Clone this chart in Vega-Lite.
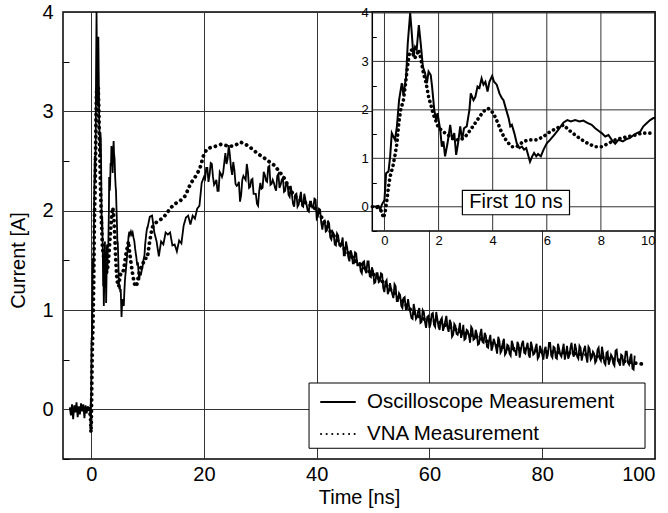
{
  "$schema": "https://vega.github.io/schema/vega-lite/v6.json",
  "width": 592,
  "height": 447,
  "autosize": {"type": "none"},
  "padding": {"left": 63, "top": 12, "right": 13, "bottom": 54},
  "background": "white",
  "config": {
    "view": {"stroke": "black", "strokeWidth": 1.5},
    "font": "Liberation Sans",
    "axis": {"labelFont": "Liberation Sans", "titleFont": "Liberation Sans", "labelColor": "black", "titleColor": "black", "titleFontWeight": "normal", "labelFontSize": 20, "titleFontSize": 20, "gridColor": "#333", "gridOpacity": 1, "tickColor": "black", "domain": false},
    "text": {"font": "Liberation Sans"}
  },
  "datasets": {
    "osc": [
      {"t":-3.8,"v":0.02},{"t":-3.6,"v":-0.06},{"t":-3.4,"v":0.05},{"t":-3.2,"v":-0.1},{"t":-3.0,"v":0.04},{"t":-2.8,"v":-0.03},{"t":-2.6,"v":0.07},{"t":-2.4,"v":-0.08},{"t":-2.2,"v":0.03},{"t":-2.0,"v":-0.05},{"t":-1.8,"v":0.06},{"t":-1.6,"v":-0.02},{"t":-1.4,"v":0.05},{"t":-1.2,"v":-0.09},{"t":-1.0,"v":0.04},{"t":-0.8,"v":-0.04},{"t":-0.6,"v":0.03},
      {"t":-0.45,"v":0.0},{"t":-0.3,"v":0.01},{"t":-0.22,"v":0.02},{"t":-0.16,"v":-0.06},{"t":-0.1,"v":0.04},{"t":0.0,"v":0.14},{"t":0.06,"v":0.69},{"t":0.15,"v":0.73},{"t":0.21,"v":1.04},{"t":0.27,"v":1.52},{"t":0.33,"v":1.45},{"t":0.39,"v":1.38},{"t":0.46,"v":1.66},{"t":0.54,"v":2.2},{"t":0.64,"v":2.55},{"t":0.7,"v":2.31},{"t":0.8,"v":2.69},{"t":0.86,"v":3.37},{"t":0.95,"v":4.0},{"t":1.01,"v":3.58},{"t":1.07,"v":3.1},{"t":1.13,"v":3.3},{"t":1.19,"v":3.24},{"t":1.27,"v":3.75},{"t":1.34,"v":3.37},{"t":1.42,"v":2.89},{"t":1.5,"v":2.76},{"t":1.57,"v":2.55},{"t":1.63,"v":2.79},{"t":1.71,"v":2.72},{"t":1.76,"v":2.48},{"t":1.84,"v":2.0},{"t":1.91,"v":1.79},{"t":1.96,"v":1.93},{"t":2.06,"v":1.59},{"t":2.12,"v":1.24},{"t":2.18,"v":1.35},{"t":2.24,"v":1.04},{"t":2.33,"v":1.31},{"t":2.43,"v":1.69},{"t":2.5,"v":1.38},{"t":2.58,"v":1.52},{"t":2.65,"v":1.07},{"t":2.72,"v":1.31},{"t":2.8,"v":1.66},{"t":2.87,"v":1.38},{"t":2.94,"v":1.62},{"t":3.04,"v":1.66},{"t":3.14,"v":2.0},{"t":3.19,"v":2.34},{"t":3.29,"v":2.2},{"t":3.36,"v":2.27},{"t":3.44,"v":2.48},{"t":3.51,"v":2.45},{"t":3.59,"v":2.65},{"t":3.66,"v":2.52},{"t":3.73,"v":2.58},{"t":3.81,"v":2.38},{"t":3.88,"v":2.58},{"t":3.98,"v":2.7},{"t":4.05,"v":2.58},{"t":4.15,"v":2.52},{"t":4.25,"v":2.34},{"t":4.34,"v":2.24},{"t":4.4,"v":2.2},{"t":4.5,"v":2.0},{"t":4.59,"v":1.83},{"t":4.65,"v":1.66},{"t":4.71,"v":1.69},{"t":4.8,"v":1.52},{"t":4.89,"v":1.31},{"t":4.99,"v":1.21},{"t":5.08,"v":1.24},{"t":5.16,"v":1.18},{"t":5.24,"v":1.21},{"t":5.31,"v":1.07},{"t":5.38,"v":0.93},{"t":5.46,"v":1.04},{"t":5.53,"v":1.11},{"t":5.61,"v":1.04},{"t":5.68,"v":1.09},{"t":5.78,"v":1.04},{"t":5.88,"v":1.18},{"t":6.0,"v":1.31},{"t":6.12,"v":1.38},{"t":6.27,"v":1.48},{"t":6.43,"v":1.59},{"t":6.62,"v":1.74},{"t":6.76,"v":1.79},{"t":6.89,"v":1.76},{"t":7.05,"v":1.79},{"t":7.21,"v":1.76},{"t":7.35,"v":1.78},{"t":7.5,"v":1.73},{"t":7.66,"v":1.69},{"t":7.79,"v":1.62},{"t":7.91,"v":1.57},{"t":8.03,"v":1.52},{"t":8.16,"v":1.45},{"t":8.28,"v":1.48},{"t":8.4,"v":1.38},{"t":8.53,"v":1.3},{"t":8.65,"v":1.38},{"t":8.81,"v":1.35},{"t":8.96,"v":1.4},{"t":9.08,"v":1.42},{"t":9.21,"v":1.48},{"t":9.33,"v":1.52},{"t":9.45,"v":1.55},{"t":9.57,"v":1.66},{"t":9.7,"v":1.73},{"t":9.82,"v":1.79},{"t":9.94,"v":1.83},
      {"t":10.0,"v":1.83},{"t":10.4,"v":1.94},{"t":10.8,"v":1.95},{"t":11.2,"v":1.78},{"t":11.6,"v":1.69},{"t":12.0,"v":1.54},{"t":12.4,"v":1.69},{"t":12.8,"v":1.66},{"t":13.2,"v":1.78},{"t":13.6,"v":1.76},{"t":14.0,"v":1.78},{"t":14.4,"v":1.65},{"t":14.8,"v":1.66},{"t":15.2,"v":1.59},{"t":15.6,"v":1.7},{"t":16.0,"v":1.67},{"t":16.4,"v":1.85},{"t":16.8,"v":1.93},{"t":17.2,"v":1.95},{"t":17.6,"v":1.86},{"t":18.0,"v":1.95},{"t":18.4,"v":1.92},{"t":18.8,"v":2.02},{"t":19.2,"v":2.05},{"t":19.6,"v":2.28},
      {"t":20.0,"v":2.34},{"t":20.4,"v":2.43},{"t":20.8,"v":2.29},{"t":21.2,"v":2.48},{"t":21.6,"v":2.34},{"t":22.0,"v":2.28},{"t":22.4,"v":2.2},{"t":22.8,"v":2.39},{"t":23.2,"v":2.34},{"t":23.6,"v":2.48},{"t":24.0,"v":2.47},{"t":24.4,"v":2.66},{"t":24.8,"v":2.43},{"t":25.2,"v":2.49},{"t":25.6,"v":2.27},{"t":26.0,"v":2.26},{"t":26.4,"v":2.09},{"t":26.8,"v":2.31},{"t":27.2,"v":2.33},{"t":27.6,"v":2.47},{"t":28.0,"v":2.23},{"t":28.4,"v":2.31},{"t":28.8,"v":2.17},{"t":29.2,"v":2.17},{"t":29.6,"v":2.05},{"t":30.0,"v":2.28},{"t":30.4,"v":2.23},{"t":30.8,"v":2.36},{"t":31.2,"v":2.29},{"t":31.6,"v":2.45},{"t":32.0,"v":2.27},{"t":32.4,"v":2.28},{"t":32.8,"v":2.2},{"t":33.2,"v":2.37},{"t":33.6,"v":2.26},{"t":34.0,"v":2.33},{"t":34.4,"v":2.2},{"t":34.8,"v":2.28},{"t":35.2,"v":2.14},{"t":35.6,"v":2.16},{"t":36.0,"v":2.04},{"t":36.4,"v":2.17},{"t":36.8,"v":2.06},{"t":37.2,"v":2.19},{"t":37.6,"v":2.04},{"t":38.0,"v":2.11},{"t":38.4,"v":2.0},{"t":38.8,"v":2.09},{"t":39.2,"v":2.03},{"t":39.6,"v":2.12},
      {"t":40.0,"v":1.92},{"t":40.4,"v":2.02},{"t":40.8,"v":1.88},{"t":41.2,"v":1.89},{"t":41.6,"v":1.79},{"t":42.0,"v":1.9},{"t":42.4,"v":1.73},{"t":42.8,"v":1.79},{"t":43.2,"v":1.66},{"t":43.6,"v":1.77},{"t":44.0,"v":1.65},{"t":44.4,"v":1.67},{"t":44.8,"v":1.55},{"t":45.2,"v":1.69},{"t":45.6,"v":1.53},{"t":46.0,"v":1.6},{"t":46.4,"v":1.47},{"t":46.8,"v":1.58},{"t":47.2,"v":1.45},{"t":47.6,"v":1.48},{"t":48.0,"v":1.37},{"t":48.4,"v":1.49},{"t":48.8,"v":1.37},{"t":49.2,"v":1.49},{"t":49.6,"v":1.33},{"t":50.0,"v":1.39},{"t":50.4,"v":1.28},{"t":50.8,"v":1.37},{"t":51.2,"v":1.29},{"t":51.6,"v":1.36},{"t":52.0,"v":1.18},{"t":52.4,"v":1.3},{"t":52.8,"v":1.19},{"t":53.2,"v":1.21},{"t":53.6,"v":1.12},{"t":54.0,"v":1.24},{"t":54.4,"v":1.09},{"t":54.8,"v":1.15},{"t":55.2,"v":1.02},{"t":55.6,"v":1.13},{"t":56.0,"v":1.01},{"t":56.4,"v":1.03},{"t":56.8,"v":0.92},{"t":57.2,"v":1.06},{"t":57.6,"v":0.91},{"t":58.0,"v":0.99},{"t":58.4,"v":0.87},{"t":58.8,"v":1.0},{"t":59.2,"v":0.88},{"t":59.6,"v":0.93},
      {"t":60.0,"v":0.82},{"t":60.4,"v":0.96},{"t":60.8,"v":0.85},{"t":61.2,"v":0.98},{"t":61.6,"v":0.83},{"t":62.0,"v":0.9},{"t":62.4,"v":0.79},{"t":62.8,"v":0.89},{"t":63.2,"v":0.82},{"t":63.6,"v":0.9},{"t":64.0,"v":0.73},{"t":64.4,"v":0.86},{"t":64.8,"v":0.76},{"t":65.2,"v":0.8},{"t":65.6,"v":0.72},{"t":66.0,"v":0.85},{"t":66.4,"v":0.71},{"t":66.8,"v":0.79},{"t":67.2,"v":0.67},{"t":67.6,"v":0.81},{"t":68.0,"v":0.71},{"t":68.4,"v":0.76},{"t":68.8,"v":0.66},{"t":69.2,"v":0.81},{"t":69.6,"v":0.67},{"t":70.0,"v":0.74},{"t":70.4,"v":0.62},{"t":70.8,"v":0.75},{"t":71.2,"v":0.63},{"t":71.6,"v":0.67},{"t":72.0,"v":0.56},{"t":72.4,"v":0.69},{"t":72.8,"v":0.59},{"t":73.2,"v":0.71},{"t":73.6,"v":0.57},{"t":74.0,"v":0.64},{"t":74.4,"v":0.54},{"t":74.8,"v":0.65},{"t":75.2,"v":0.59},{"t":75.6,"v":0.68},{"t":76.0,"v":0.52},{"t":76.4,"v":0.66},{"t":76.8,"v":0.57},{"t":77.2,"v":0.62},{"t":77.6,"v":0.55},{"t":78.0,"v":0.68},{"t":78.4,"v":0.55},{"t":78.8,"v":0.62},{"t":79.2,"v":0.51},{"t":79.6,"v":0.64},
      {"t":80.0,"v":0.55},{"t":80.4,"v":0.6},{"t":80.8,"v":0.51},{"t":81.2,"v":0.67},{"t":81.6,"v":0.54},{"t":82.0,"v":0.63},{"t":82.4,"v":0.52},{"t":82.8,"v":0.66},{"t":83.2,"v":0.55},{"t":83.6,"v":0.6},{"t":84.0,"v":0.5},{"t":84.4,"v":0.64},{"t":84.8,"v":0.54},{"t":85.2,"v":0.67},{"t":85.6,"v":0.53},{"t":86.0,"v":0.61},{"t":86.4,"v":0.51},{"t":86.8,"v":0.62},{"t":87.2,"v":0.55},{"t":87.6,"v":0.64},{"t":88.0,"v":0.47},{"t":88.4,"v":0.61},{"t":88.8,"v":0.52},{"t":89.2,"v":0.56},{"t":89.6,"v":0.49},{"t":90.0,"v":0.62},{"t":90.4,"v":0.49},{"t":90.8,"v":0.56},{"t":91.2,"v":0.45},{"t":91.6,"v":0.58},{"t":92.0,"v":0.49},{"t":92.4,"v":0.53},{"t":92.8,"v":0.44},{"t":93.2,"v":0.6},{"t":93.6,"v":0.47},{"t":94.0,"v":0.55},{"t":94.4,"v":0.44},{"t":94.8,"v":0.58},{"t":95.2,"v":0.47},{"t":95.6,"v":0.52},{"t":96.0,"v":0.41},{"t":96.4,"v":0.54},
      {"t":20.2,"v":2.32},{"t":20.6,"v":2.43},{"t":21.0,"v":2.36},{"t":21.4,"v":2.47},{"t":21.8,"v":2.26},{"t":22.2,"v":2.31},{"t":22.6,"v":2.2},{"t":23.0,"v":2.37},{"t":23.4,"v":2.38},{"t":23.8,"v":2.58},{"t":24.2,"v":2.52},{"t":24.6,"v":2.56},{"t":25.0,"v":2.36},{"t":25.4,"v":2.41},{"t":25.8,"v":2.25},{"t":26.2,"v":2.29},{"t":26.6,"v":2.16},{"t":27.0,"v":2.35},{"t":27.4,"v":2.31},{"t":27.8,"v":2.39},{"t":28.2,"v":2.24},{"t":28.6,"v":2.32},{"t":29.0,"v":2.17},{"t":29.4,"v":2.07},{"t":29.8,"v":2.2},
      {"t":30.2,"v":2.22},{"t":30.6,"v":2.39},{"t":31.0,"v":2.3},{"t":31.4,"v":2.44},{"t":31.8,"v":2.26},{"t":32.2,"v":2.31},{"t":32.6,"v":2.23},{"t":33.0,"v":2.35},{"t":33.4,"v":2.23},{"t":33.8,"v":2.31},{"t":34.2,"v":2.19},{"t":34.6,"v":2.28},{"t":35.0,"v":2.16},{"t":35.4,"v":2.25},{"t":35.8,"v":2.07},{"t":36.2,"v":2.16},{"t":36.6,"v":2.04},{"t":37.0,"v":2.13},{"t":37.4,"v":2.05},{"t":37.8,"v":2.17},{"t":38.2,"v":2.06},{"t":38.6,"v":1.99},{"t":39.0,"v":2.09},{"t":39.4,"v":2.03},{"t":39.8,"v":2.11},
      {"t":40.2,"v":1.94},{"t":40.6,"v":2.01},{"t":41.0,"v":1.81},{"t":41.4,"v":1.9},{"t":41.8,"v":1.8},{"t":42.2,"v":1.87},{"t":42.6,"v":1.71},{"t":43.0,"v":1.77},{"t":43.4,"v":1.65},{"t":43.8,"v":1.75},{"t":44.2,"v":1.64},{"t":44.6,"v":1.73},{"t":45.0,"v":1.55},{"t":45.4,"v":1.63},{"t":45.8,"v":1.49},{"t":46.2,"v":1.57},{"t":46.6,"v":1.47},{"t":47.0,"v":1.57},{"t":47.4,"v":1.45},{"t":47.8,"v":1.39},{"t":48.2,"v":1.48},{"t":48.6,"v":1.4},{"t":49.0,"v":1.49},{"t":49.4,"v":1.34},{"t":49.8,"v":1.43},
      {"t":50.2,"v":1.27},{"t":50.6,"v":1.37},{"t":51.0,"v":1.28},{"t":51.4,"v":1.37},{"t":51.8,"v":1.22},{"t":52.2,"v":1.28},{"t":52.6,"v":1.16},{"t":53.0,"v":1.27},{"t":53.4,"v":1.16},{"t":53.8,"v":1.26},{"t":54.2,"v":1.09},{"t":54.6,"v":1.17},{"t":55.0,"v":1.04},{"t":55.4,"v":1.12},{"t":55.8,"v":1.01},{"t":56.2,"v":1.11},{"t":56.6,"v":0.98},{"t":57.0,"v":0.91},{"t":57.4,"v":1.0},{"t":57.8,"v":0.93},{"t":58.2,"v":1.02},{"t":58.6,"v":0.88},{"t":59.0,"v":0.98},{"t":59.4,"v":0.82},{"t":59.8,"v":0.94},
      {"t":60.2,"v":0.86},{"t":60.6,"v":0.97},{"t":61.0,"v":0.83},{"t":61.4,"v":0.91},{"t":61.8,"v":0.8},{"t":62.2,"v":0.92},{"t":62.6,"v":0.83},{"t":63.0,"v":0.94},{"t":63.4,"v":0.78},{"t":63.8,"v":0.87},{"t":64.2,"v":0.75},{"t":64.6,"v":0.84},{"t":65.0,"v":0.75},{"t":65.4,"v":0.87},{"t":65.8,"v":0.76},{"t":66.2,"v":0.7},{"t":66.6,"v":0.8},{"t":67.0,"v":0.74},{"t":67.4,"v":0.83},{"t":67.8,"v":0.7},{"t":68.2,"v":0.8},{"t":68.6,"v":0.65},{"t":69.0,"v":0.76},{"t":69.4,"v":0.68},{"t":69.8,"v":0.77},
      {"t":70.2,"v":0.63},{"t":70.6,"v":0.7},{"t":71.0,"v":0.59},{"t":71.4,"v":0.71},{"t":71.8,"v":0.62},{"t":72.2,"v":0.73},{"t":72.6,"v":0.57},{"t":73.0,"v":0.67},{"t":73.4,"v":0.55},{"t":73.8,"v":0.65},{"t":74.2,"v":0.56},{"t":74.6,"v":0.69},{"t":75.0,"v":0.59},{"t":75.4,"v":0.54},{"t":75.8,"v":0.65},{"t":76.2,"v":0.59},{"t":76.6,"v":0.69},{"t":77.0,"v":0.56},{"t":77.4,"v":0.67},{"t":77.8,"v":0.52},{"t":78.2,"v":0.63},{"t":78.6,"v":0.56},{"t":79.0,"v":0.66},{"t":79.4,"v":0.53},{"t":79.8,"v":0.6},
      {"t":80.2,"v":0.5},{"t":80.6,"v":0.63},{"t":81.0,"v":0.55},{"t":81.4,"v":0.67},{"t":81.8,"v":0.52},{"t":82.2,"v":0.62},{"t":82.6,"v":0.51},{"t":83.0,"v":0.61},{"t":83.4,"v":0.53},{"t":83.8,"v":0.66},{"t":84.2,"v":0.56},{"t":84.6,"v":0.51},{"t":85.0,"v":0.62},{"t":85.4,"v":0.56},{"t":85.8,"v":0.66},{"t":86.2,"v":0.53},{"t":86.6,"v":0.64},{"t":87.0,"v":0.49},{"t":87.4,"v":0.6},{"t":87.8,"v":0.53},{"t":88.2,"v":0.63},{"t":88.6,"v":0.5},{"t":89.0,"v":0.58},{"t":89.4,"v":0.47},{"t":89.8,"v":0.6},
      {"t":90.2,"v":0.51},{"t":90.6,"v":0.63},{"t":91.0,"v":0.47},{"t":91.4,"v":0.57},{"t":91.8,"v":0.45},{"t":92.2,"v":0.55},{"t":92.6,"v":0.46},{"t":93.0,"v":0.59},{"t":93.4,"v":0.49},{"t":93.8,"v":0.44},{"t":94.2,"v":0.54},{"t":94.6,"v":0.48},{"t":95.0,"v":0.58},{"t":95.4,"v":0.45},{"t":95.8,"v":0.56},{"t":96.2,"v":0.4}
    ],
    "vna": [
      {"t":-0.45,"v":0.0},{"t":-0.3,"v":0.0},{"t":-0.16,"v":-0.06},{"t":-0.1,"v":-0.1},{"t":-0.04,"v":-0.23},{"t":0.02,"v":-0.13},{"t":0.09,"v":0.14},{"t":0.15,"v":0.42},{"t":0.21,"v":0.63},{"t":0.31,"v":0.83},{"t":0.39,"v":1.07},{"t":0.46,"v":1.31},{"t":0.53,"v":1.73},{"t":0.6,"v":2.0},{"t":0.7,"v":2.2},{"t":0.78,"v":2.55},{"t":0.85,"v":2.89},{"t":0.92,"v":3.17},{"t":1.01,"v":3.24},{"t":1.1,"v":3.07},{"t":1.17,"v":3.1},{"t":1.26,"v":3.24},{"t":1.34,"v":3.07},{"t":1.44,"v":2.76},{"t":1.54,"v":2.55},{"t":1.63,"v":2.27},{"t":1.73,"v":2.07},{"t":1.81,"v":1.9},{"t":1.91,"v":1.76},{"t":2.0,"v":1.62},{"t":2.1,"v":1.59},{"t":2.24,"v":1.52},{"t":2.43,"v":1.45},{"t":2.61,"v":1.38},{"t":2.82,"v":1.38},{"t":3.04,"v":1.48},{"t":3.27,"v":1.66},{"t":3.48,"v":1.83},{"t":3.66,"v":1.97},{"t":3.84,"v":2.03},{"t":4.03,"v":1.93},{"t":4.19,"v":1.73},{"t":4.34,"v":1.52},{"t":4.52,"v":1.35},{"t":4.71,"v":1.24},{"t":4.89,"v":1.24},{"t":5.14,"v":1.35},{"t":5.38,"v":1.38},{"t":5.63,"v":1.38},{"t":5.88,"v":1.45},{"t":6.12,"v":1.55},{"t":6.37,"v":1.62},{"t":6.62,"v":1.69},{"t":6.8,"v":1.59},{"t":7.05,"v":1.48},{"t":7.3,"v":1.38},{"t":7.54,"v":1.3},{"t":7.79,"v":1.24},{"t":8.03,"v":1.24},{"t":8.28,"v":1.31},{"t":8.53,"v":1.38},{"t":8.77,"v":1.42},{"t":9.02,"v":1.45},{"t":9.27,"v":1.48},{"t":9.51,"v":1.52},{"t":9.76,"v":1.52},{"t":9.94,"v":1.52},
      {"t":10.4,"v":1.7},{"t":10.8,"v":1.83},{"t":11.5,"v":1.88},{"t":12.8,"v":1.93},{"t":14.0,"v":2.02},{"t":14.6,"v":2.06},{"t":15.8,"v":2.1},{"t":16.7,"v":2.15},{"t":17.6,"v":2.27},{"t":18.7,"v":2.36},{"t":19.3,"v":2.43},{"t":19.9,"v":2.55},{"t":20.5,"v":2.62},{"t":21.4,"v":2.64},{"t":22.2,"v":2.65},{"t":23.1,"v":2.67},{"t":24.3,"v":2.65},{"t":25.3,"v":2.65},{"t":26.5,"v":2.69},{"t":27.6,"v":2.66},{"t":28.6,"v":2.62},{"t":29.6,"v":2.57},{"t":30.5,"v":2.54},{"t":31.4,"v":2.5},{"t":32.4,"v":2.46},{"t":33.3,"v":2.4},{"t":34.2,"v":2.33},{"t":35.1,"v":2.23},{"t":36.0,"v":2.15},{"t":37.0,"v":2.11},{"t":38.0,"v":2.08},{"t":39.0,"v":2.05},{"t":40.0,"v":2.01},{"t":41.0,"v":1.92},{"t":42.0,"v":1.82},{"t":43.0,"v":1.75},{"t":44.0,"v":1.68},{"t":45.0,"v":1.61},{"t":46.0,"v":1.55},{"t":47.0,"v":1.49},{"t":48.0,"v":1.45},{"t":49.0,"v":1.4},{"t":50.0,"v":1.36},{"t":51.0,"v":1.32},{"t":52.0,"v":1.27},{"t":53.0,"v":1.21},{"t":54.0,"v":1.16},{"t":55.0,"v":1.11},{"t":56.0,"v":1.04},{"t":57.0,"v":0.98},{"t":58.0,"v":0.94},{"t":59.0,"v":0.91},{"t":60.0,"v":0.9},{"t":62.0,"v":0.87},{"t":64.0,"v":0.82},{"t":66.0,"v":0.77},{"t":68.0,"v":0.74},{"t":70.0,"v":0.69},{"t":72.0,"v":0.64},{"t":74.0,"v":0.61},{"t":76.0,"v":0.61},{"t":78.0,"v":0.6},{"t":80.0,"v":0.58},{"t":84.0,"v":0.57},{"t":88.0,"v":0.55},{"t":92.0,"v":0.51},{"t":96.0,"v":0.47},{"t":98.5,"v":0.45}
    ],
    "insetgx": [{"g":0},{"g":2},{"g":4},{"g":6},{"g":8},{"g":10}],
    "insetgy": [{"g":0},{"g":1},{"g":2},{"g":3},{"g":4}],
    "note": [{"label":"First 10 ns"}]
  },
  "layer": [
    {
      "layer": [
        {
          "data": {"name": "osc"},
          "mark": {"type": "line", "color": "black", "strokeWidth": 1.8, "clip": true},
          "encoding": {
            "x": {"field": "t", "type": "quantitative", "scale": {"domain": [-5, 100], "nice": false, "zero": false},
              "axis": {"orient": "bottom", "values": [0, 20, 40, 60, 80, 100], "format": "d", "title": "Time [ns]", "grid": true, "ticks": false, "labelPadding": 5, "titlePadding": 3}},
            "y": {"field": "v", "type": "quantitative", "scale": {"domain": [-0.5, 4], "nice": false, "zero": false},
              "axis": {"orient": "left", "values": [-0.5, 0, 0.5, 1, 1.5, 2, 2.5, 3, 3.5, 4], "title": "Current [A]",
                "labelExpr": "datum.value % 1 === 0 ? format(datum.value, 'd') : ''",
                "gridOpacity": {"condition": {"test": "datum.value % 1 !== 0", "value": 0}, "value": 1},
                "tickOpacity": {"condition": {"test": "datum.value % 1 === 0", "value": 0}, "value": 1},
                "tickSize": -6, "labelPadding": 16,
                "titleX": -45, "titleY": 248, "titleAngle": -90, "titleAlign": "center", "titleBaseline": "middle"}},
            "strokeDash": {"datum": "Oscilloscope Measurement", "type": "nominal",
              "scale": {"domain": ["Oscilloscope Measurement", "VNA Measurement"], "range": [[1, 0], [0.1, 5.5]]},
              "legend": {"orient": "none", "legendX": 250, "legendY": 371, "title": null, "padding": 8,
                "labelFont": "Liberation Sans", "labelFontSize": 20.5, "labelColor": "black", "symbolType": "M-1.7,0L1.7,0", "symbolSize": 400, "symbolStrokeWidth": 2, "symbolStrokeColor": "black", "symbolFillColor": "transparent",
                "symbolOffset": 6, "labelOffset": 18, "rowPadding": 10, "labelLimit": 400,
                "encode": {"symbols": {"update": {"strokeCap": {"value": "round"}}}}}}
          }
        },
        {
          "data": {"name": "vna"},
          "mark": {"type": "line", "color": "black", "strokeWidth": 3.8, "strokeCap": "round", "clip": true},
          "encoding": {
            "x": {"field": "t", "type": "quantitative"},
            "y": {"field": "v", "type": "quantitative"},
            "strokeDash": {"datum": "VNA Measurement", "type": "nominal"}
          }
        },
        {
          "data": {"values": [{}]},
          "mark": {"type": "rect", "fill": "white", "stroke": "black", "strokeWidth": 1},
          "encoding": {"x": {"datum": 38.64}, "x2": {"datum": 98.23}, "y": {"datum": -0.392}, "y2": {"datum": 0.265}}
        }
      ]
    },
    {
      "layer": [
        {
          "data": {"values": [{}]},
          "mark": {"type": "rect", "fill": "white", "stroke": "black", "strokeWidth": 1.5},
          "encoding": {
            "x": {"datum": -0.45, "type": "quantitative", "scale": {"domain": [-0.45, 10], "range": [309.3, 592], "nice": false, "zero": false},
              "axis": {"orient": "bottom", "offset": -228, "values": [0, 2, 4, 6, 8, 10], "format": "d", "title": null, "grid": false, "ticks": false, "labelFontSize": 13, "labelPadding": 3, "zindex": 1}},
            "x2": {"datum": 10},
            "y": {"datum": -0.5, "type": "quantitative", "scale": {"domain": [-0.5, 4.02], "range": [219, 0], "nice": false, "zero": false},
              "axis": {"orient": "left", "offset": -309.3, "values": [-0.5, 0, 0.5, 1, 1.5, 2, 2.5, 3, 3.5, 4], "title": null, "grid": false,
                "labelExpr": "datum.value % 1 === 0 ? format(datum.value, 'd') : ''",
                "tickOpacity": {"condition": {"test": "datum.value % 1 === 0", "value": 0}, "value": 1},
                "tickSize": -4, "labelFontSize": 13, "labelPadding": 8, "zindex": 1}},
            "y2": {"datum": 4.02}
          }
        },
        {
          "data": {"name": "insetgx"},
          "mark": {"type": "rule", "color": "#333", "strokeWidth": 1},
          "encoding": {"x": {"field": "g", "type": "quantitative"}, "y": {"datum": -0.5}, "y2": {"datum": 4.02}}
        },
        {
          "data": {"name": "insetgy"},
          "mark": {"type": "rule", "color": "#333", "strokeWidth": 1},
          "encoding": {"y": {"field": "g", "type": "quantitative"}, "x": {"datum": -0.45}, "x2": {"datum": 10}}
        },
        {
          "data": {"name": "osc"},
          "transform": [{"filter": "datum.t >= -0.45 && datum.t <= 10"}],
          "mark": {"type": "line", "color": "black", "strokeWidth": 2},
          "encoding": {"x": {"field": "t", "type": "quantitative"}, "y": {"field": "v", "type": "quantitative"}}
        },
        {
          "data": {"name": "vna"},
          "transform": [{"filter": "datum.t >= -0.45 && datum.t <= 10"}],
          "mark": {"type": "line", "color": "black", "strokeWidth": 3.6, "strokeCap": "round", "strokeDash": [0.1, 5]},
          "encoding": {"x": {"field": "t", "type": "quantitative"}, "y": {"field": "v", "type": "quantitative"}}
        },
        {
          "data": {"values": [{}]},
          "mark": {"type": "rect", "fill": "white", "stroke": "black", "strokeWidth": 1.2},
          "encoding": {"x": {"datum": 2.88}, "x2": {"datum": 6.84}, "y": {"datum": -0.165}, "y2": {"datum": 0.34}}
        },
        {
          "data": {"name": "note"},
          "mark": {"type": "text", "font": "Liberation Sans", "fontSize": 20, "color": "black", "align": "center", "baseline": "middle"},
          "encoding": {"x": {"datum": 4.86}, "y": {"datum": 0.09}, "text": {"field": "label"}}
        }
      ]
    }
  ],
  "resolve": {"scale": {"x": "independent", "y": "independent"}, "axis": {"x": "independent", "y": "independent"}}
}
